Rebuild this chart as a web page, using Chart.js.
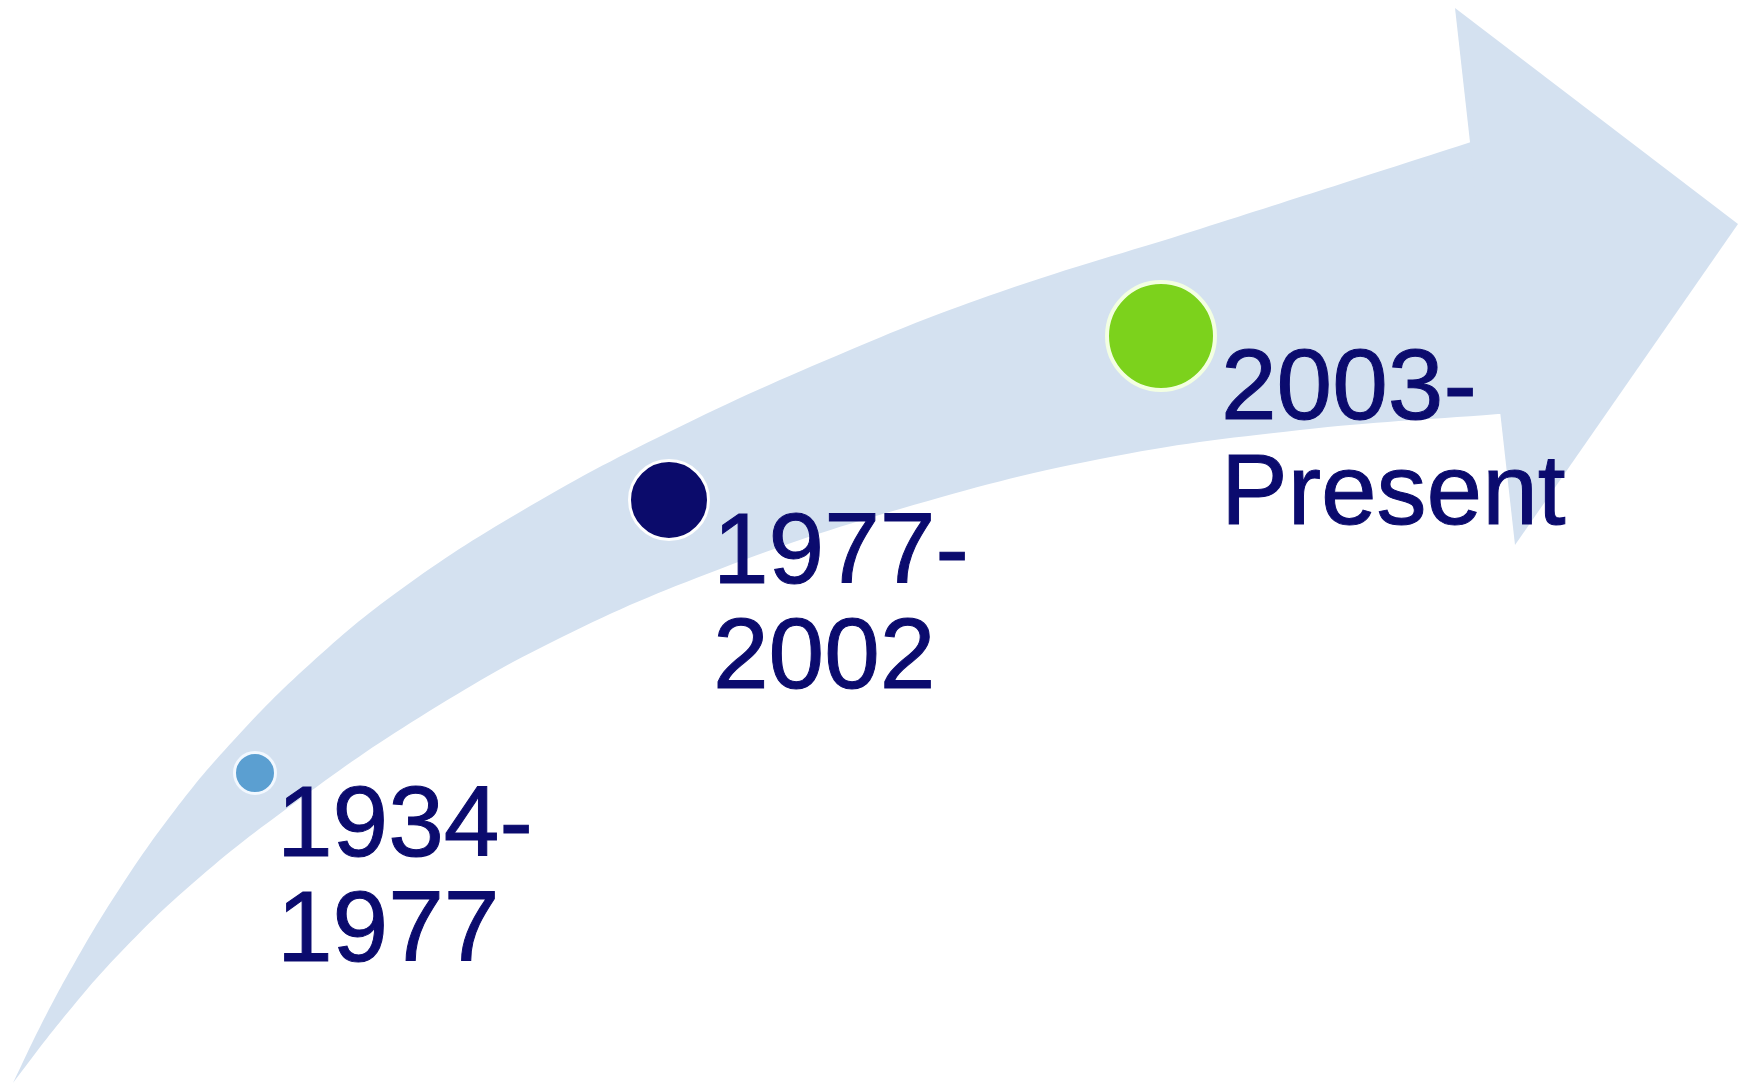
<!DOCTYPE html>
<html>
<head>
<meta charset="utf-8">
<title>Timeline</title>
<script src="https://cdn.jsdelivr.net/npm/chart.js@4.4.1/dist/chart.umd.min.js"></script>
<style>
    html, body { margin: 0; padding: 0; background: #ffffff; }
    #wrap { width: 1748px; height: 1085px; position: relative; }
</style>
</head>
<body>
<div id="wrap"><canvas id="timelineChart"></canvas></div>
<script>
// ============================================
// DATA (picture frame: 1748 x 1085, y grows downward)
// ============================================

const periods = ['1934-1977', '1977-2002', '2003-Present'];
const markerX = [255, 669, 1161];
const markerY = [773, 500, 336];

// curved body of the arrow
const upperEdgeX = [13, 40, 75, 120, 175, 233, 310, 400, 520, 669, 850, 1000, 1200, 1468, 1520];
const upperEdgeY = [1083, 1027, 962, 888, 810, 741, 664, 590, 512, 432, 350, 292, 229, 143, 126];
const lowerEdgeX = [1520, 1498, 1300, 1100, 900, 720, 560, 420, 300, 200, 120, 60, 13];
const lowerEdgeY = [412, 414, 430, 459, 509, 569, 638, 717, 799, 877, 953, 1022, 1083];

// arrow head: top, right tip, bottom
const headX = [1455, 1738, 1515];
const headY = [8, 224, 545];

// ============================================
// STYLE
// ============================================

const ARROW_COLOR = '#d4e1f0';
const TEXT_COLOR = '#0b0b6e';
const markerColors = ['#5b9fd1', '#0b0b6b', '#7cd21c'];
const markerBorders = ['#f2f8ff', '#ffffff', '#f3ffe2'];
const markerRadius = [20.5, 39.5, 54];
const markerBorderWidth = [3, 3, 4];
const labelDx = [22, 44, 60];
const labelDy = 83;
const lineGap = 105;

function toPoints(xs, ys) {
    return xs.map((x, i) => ({ x: x, y: ys[i] }));
}

// ============================================
// LABEL PLUGIN
// ============================================

const periodLabels = {
    id: 'periodLabels',
    afterDatasetsDraw(chart) {
        const meta = chart.getDatasetMeta(0);
        const ctx = chart.ctx;
        ctx.save();
        ctx.fillStyle = TEXT_COLOR;
        ctx.strokeStyle = TEXT_COLOR;
        ctx.lineWidth = 1;
        ctx.font = '100px "Liberation Sans", Arial, sans-serif';
        ctx.textAlign = 'left';
        ctx.textBaseline = 'alphabetic';
        meta.data.forEach((pt, i) => {
            const cut = periods[i].indexOf('-') + 1;
            const lines = [periods[i].slice(0, cut), periods[i].slice(cut)];
            lines.forEach((line, j) => {
                const tx = pt.x + labelDx[i];
                const ty = pt.y + labelDy + j * lineGap;
                ctx.fillText(line, tx, ty);
                ctx.strokeText(line, tx, ty);
            });
        });
        ctx.restore();
    }
};

// ============================================
// CHART
// ============================================

const ctx = document.getElementById('timelineChart').getContext('2d');

new Chart(ctx, {
    type: 'line',
    data: {
        datasets: [
            {
                label: 'Periods',
                data: toPoints(markerX, markerY),
                showLine: false,
                pointRadius: markerRadius,
                pointBackgroundColor: markerColors,
                pointBorderColor: markerBorders,
                pointBorderWidth: markerBorderWidth,
                order: 0
            },
            {
                label: 'Arrow head',
                data: toPoints(headX, headY),
                borderWidth: 0,
                backgroundColor: ARROW_COLOR,
                fill: 'shape',
                tension: 0,
                pointRadius: 0,
                order: 1
            },
            {
                label: 'Arrow body',
                data: toPoints(upperEdgeX.concat(lowerEdgeX), upperEdgeY.concat(lowerEdgeY)),
                borderWidth: 0,
                backgroundColor: ARROW_COLOR,
                fill: 'shape',
                tension: 0.4,
                pointRadius: 0,
                order: 2
            }
        ]
    },
    options: {
        responsive: true,
        maintainAspectRatio: false,
        animation: false,
        events: [],
        layout: { padding: 0, autoPadding: false },
        plugins: {
            legend: { display: false },
            tooltip: { enabled: false }
        },
        scales: {
            x: { type: 'linear', min: 0, max: 1748, display: false },
            y: { type: 'linear', min: 0, max: 1085, reverse: true, display: false }
        }
    },
    plugins: [periodLabels]
});
</script>
</body>
</html>
